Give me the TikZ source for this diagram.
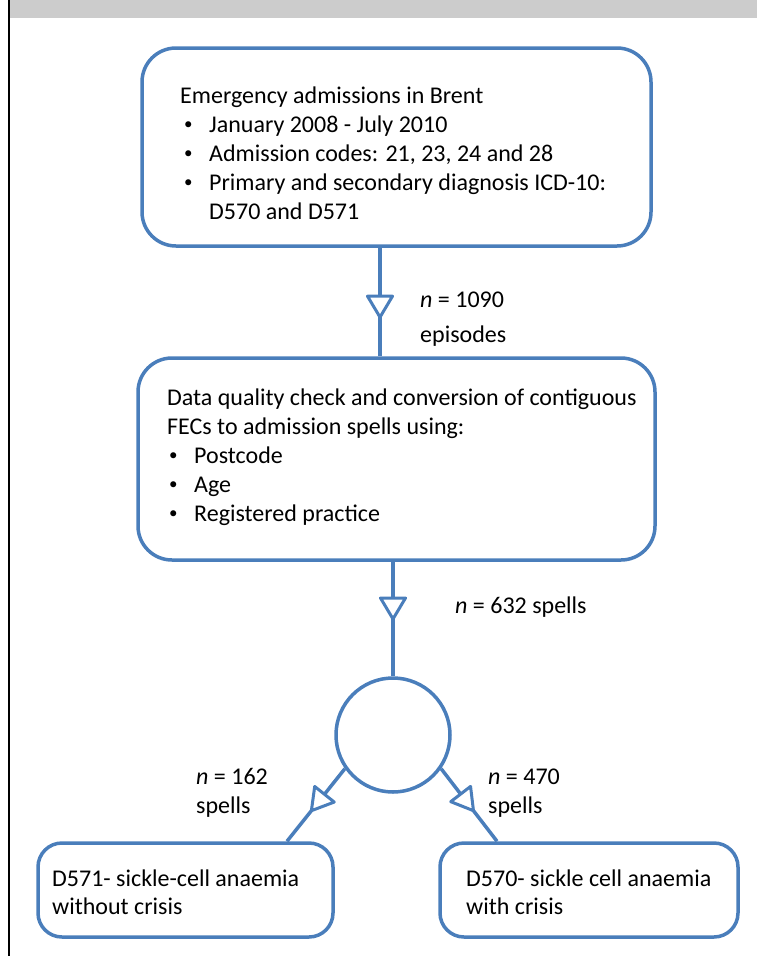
\documentclass[tikz,border=0pt]{standalone}
\usepackage{fontspec}
\setmainfont{Carlito}
\usetikzlibrary{decorations.markings,calc}
\definecolor{boxblue}{RGB}{74,126,187}
\definecolor{hdrgrey}{RGB}{204,204,204}
\newcommand{\bul}[1]{\makebox[#1][l]{\raisebox{2.3pt}{\fontsize{17}{17}\selectfont •}}}
\begin{document}
\begin{tikzpicture}[x=1pt,y=-1pt,
  box/.style={draw=boxblue,line width=3.5pt,fill=white,inner sep=0pt},
  txt/.style={anchor=base west,inner sep=0pt,font=\fontsize{24}{28}\selectfont},
  flow/.style={draw=boxblue,line width=3.5pt,postaction={decorate},
    decoration={markings,mark=at position #1 with {%
      \draw[draw=boxblue,line width=3pt,fill=white,line join=round] (0,0) -- (-21,12.5) -- (-21,-12.5) -- cycle;}}}
]
\useasboundingbox (0,0) rectangle (757,956);
% header bar and frame line
\fill[hdrgrey] (9,0) rectangle (757,18);
\draw[line width=2pt] (9,0) -- (9,956);

% boxes
\node[box,rounded corners=34pt,minimum width=509pt,minimum height=198pt] (b1) at (396.5,147) {};
\node[box,rounded corners=34pt,minimum width=517pt,minimum height=202pt] (b2) at (396.5,459) {};
\node[box,circle,minimum size=114pt] (c) at (393,735) {};
\node[box,rounded corners=24pt,minimum width=295pt,minimum height=94pt] (bl) at (185.5,890) {};
\node[box,rounded corners=24pt,minimum width=298pt,minimum height=94pt] (br) at (589,890) {};

% helper x positions
\coordinate (x1) at (380,0);
\coordinate (xl) at (287,0);
\coordinate (xr) at (497,0);

% connectors
\draw[flow=0.64] (b1.south -| x1) -- (b2.north -| x1);
\draw[flow=0.50] (b2.south -| c) -- (c.north);
\draw[flow=0.58] (c.215) -- (bl.north -| xl);
\draw[flow=0.58] (c.325) -- (br.north -| xr);

% box 1 text
\node[txt] (t11) at (180,103) {Emergency admissions in Brent};
\node[txt] (t12) at (184,132) {\bul{25pt}January 2008 - July 2010};
\node[txt] (t13) at (184,161) {\bul{25pt}Admission codes: 21, 23, 24 and 28};
\node[txt] (t14) at (184,190) {\bul{25pt}Primary and secondary diagnosis ICD-10:};
\node[txt] (t15) at (209,219) {D570 and D571};

% box 2 text
\node[txt] (t21) at (167,405) {Data quality check and conversion of contiguous};
\node[txt] (t22) at (167,434) {FECs to admission spells using:};
\node[txt] (t23) at (169,463) {\bul{25pt}Postcode};
\node[txt] (t24) at (169,492) {\bul{25pt}Age};
\node[txt] (t25) at (169,521) {\bul{25pt}Registered practice};

% labels
\node[txt] (l11) at (420,307) {\textit{n} = 1090};
\node[txt] (l12) at (420,342) {episodes};
\node[txt] (l2) at (455,613) {\textit{n} = 632 spells};
\node[txt] (l31) at (196,784) {\textit{n} = 162};
\node[txt] (l32) at (196,813) {spells};
\node[txt] (l41) at (488,784) {\textit{n} = 470};
\node[txt] (l42) at (488,813) {spells};

% bottom box texts
\node[txt] (t31) at (52,886) {D571- sickle-cell anaemia};
\node[txt] (t32) at (52,914) {without crisis};
\node[txt] (t41) at (466,886) {D570- sickle cell anaemia};
\node[txt] (t42) at (466,914) {with crisis};
\end{tikzpicture}
\end{document}
